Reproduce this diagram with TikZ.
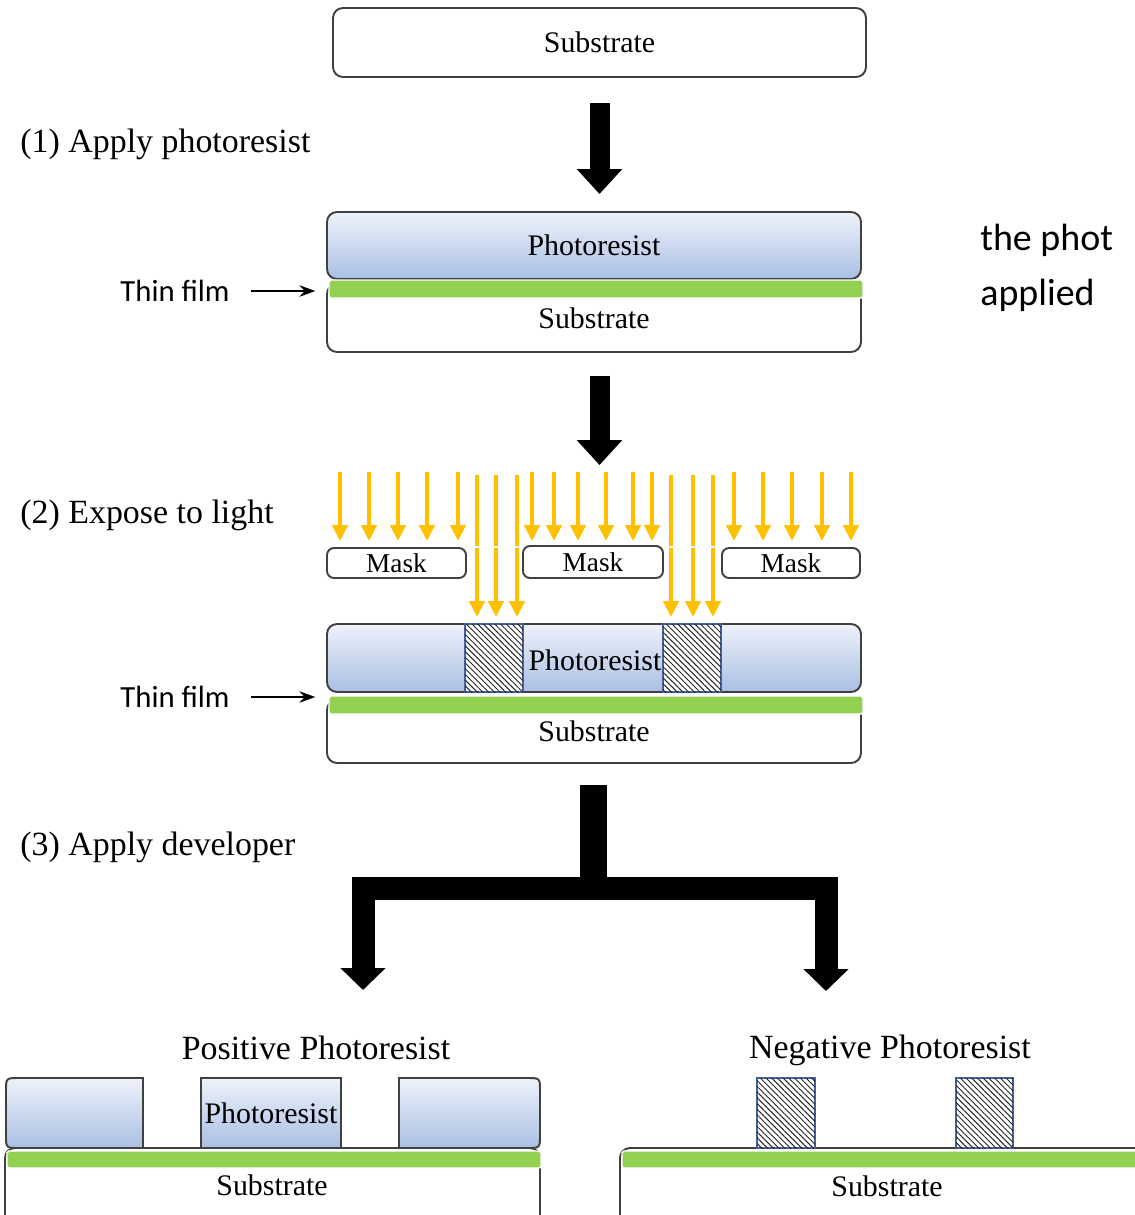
\documentclass[tikz,border=0pt]{standalone}
\usepackage{fontspec}
\setmainfont{Liberation Serif}
\newfontfamily\calibri{Carlito}
\usetikzlibrary{arrows.meta,patterns.meta,fit,positioning}
\definecolor{resTop}{HTML}{EEF2FA}
\definecolor{resBot}{HTML}{A9BFE3}
\definecolor{filmGreen}{HTML}{92D050}
\definecolor{rayYellow}{HTML}{FFC000}
\definecolor{expBlue}{HTML}{44639C}
\tikzset{layer/.style={draw=black!75,line width=1.1pt,inner sep=0pt,rounded corners=5.7pt},
        substr/.style={layer,fill=white},
        resist/.style={layer,top color=resTop,bottom color=resBot},
        film/.style={draw=white,line width=0.8pt,fill=filmGreen,inner sep=0pt,rounded corners=1pt},
        exposed/.style={draw=expBlue,line width=0.9pt,inner sep=0pt,fill=white,
          postaction={pattern={Lines[angle=-45,distance=2.3pt,line width=0.55pt]},pattern color=black!85}},
        maskbox/.style={layer,rounded corners=4pt},
        plain/.style={inner sep=0pt,font=\fontsize{17}{20}\selectfont},
        txt/.style={label={[plain]center:{#1}}},
        masktxt/.style={label={[plain,font=\fontsize{15.5}{18}\selectfont]center:{#1}}},
        ray/.style={draw=rayYellow,line width=2.3pt,-{Triangle[length=9pt,width=8.5pt]}},
        raygap/.style={draw=white,line width=1.6pt},
        bigarrow/.style={line width=0.4cm,-{Triangle[length=0.5cm,width=0.88cm]}},
        branch/.style={line width=0.46cm,line join=miter,-{Triangle[length=0.44cm,width=0.88cm]}},
        filmarrow/.style={line width=1.3pt,-{Stealth[length=9pt,width=6.5pt]}},
        steplabel/.style={anchor=west,inner sep=0pt,font=\fontsize{19.3}{22}\selectfont},
        sidelabel/.style={inner sep=0pt,font=\calibri\fontsize{17.5}{20}\selectfont}}
\begin{document}
\begin{tikzpicture}[x=0.02cm,y=-0.02cm]
\clip (0,0) rectangle (1135,1215);
% start: bare substrate
\node[substr,fit={(333,8) (866,77)},txt=Substrate] (sub0) {};
\node[steplabel] (step1) at (20,144) {(1) Apply photoresist};

% after coating
\node[substr,fit={(327,284) (861,352)},txt=Substrate] (sub1) {};
\node[resist,fit={(327,212) (861,279)},txt=Photoresist] (pr1) {};
\node[film,fit={(329,280) (863,298)}] (film1) {};
\node[sidelabel] (tf1) at (175,291) {Thin film};
\draw[filmarrow,shorten <=0.42cm,shorten >=0.26cm] (tf1.east) -- (tf1.east -| film1.west);
\node[anchor=base west,align=left,inner sep=0pt,font=\calibri\fontsize{21.6}{31}\selectfont]
  (note) at (980,305) {the phot\\applied};

\draw[bigarrow,shorten <=0.5cm,shorten >=0.34cm] (sub0.south) -- (sub0.south |- pr1.north);

% exposure
\node[steplabel] (step2) at (20,515) {(2) Expose to light};
\node[maskbox,fit={(327,548) (466,578)},masktxt=Mask] (mask1) {};
\node[maskbox,fit={(523,546) (663,578)},masktxt=Mask] (mask2) {};
\node[maskbox,fit={(722,548) (860,578)},masktxt=Mask] (mask3) {};
\foreach \x in {340,369,398,427,458,532,554,578,606,633,652,734,763,792,822,851}
  \draw[ray] (\x,472) -- (\x,541);
\foreach \x in {477,496,517,671,693,713}
  \draw[ray] (\x,475) -- (\x,617);
\draw[raygap] (mask1.north east) -- (mask2.north west |- mask1.north);
\draw[raygap] (mask2.north east |- mask3.north) -- (mask3.north west);

\node[substr,fit={(327,700) (861,763)},txt=Substrate] (sub2) {};
\node[resist,fit={(327,624) (861,692)}] (pr2) {};
\node[exposed,fit={(465,624) (523,692)}] (exp1) {};
\node[exposed,fit={(663,624) (721,692)}] (exp2) {};
\node[film,fit={(329,696) (863,714)}] (film2) {};
\node[plain] (prtxt2) at (595,660) {Photoresist};
\node[sidelabel] (tf2) at (175,697) {Thin film};
\draw[filmarrow,shorten <=0.42cm,shorten >=0.26cm] (tf2.east) -- (tf2.east -| film2.west);

\draw[bigarrow,shorten <=0.46cm,shorten >=1.6cm] (sub0.south |- sub1.south) -- (sub0.south |- mask2.north);

% develop
\node[steplabel] (step3) at (20,847) {(3) Apply developer};
\coordinate (split) at (593,888);
\coordinate (postip) at (363,990);
\coordinate (negtip) at (826,991);
\draw[line width=0.54cm,shorten <=0.42cm] (sub2.south -| split) -- (split);
\draw[branch] (split) -| (postip);
\draw[branch] (split) -| (negtip);

% positive resist
\node[steplabel,anchor=center] (postitle) at (316,1048) {Positive Photoresist};
\draw[substr] (5,1148) rectangle (540,1240);
\node[plain] (subtxt3) at (272,1185) {Substrate};
\draw[resist,sharp corners] (143,1078) -- (19,1078) .. controls (6,1078) .. (6,1091)
  -- (6,1135) .. controls (6,1148) .. (19,1148) -- (143,1148) -- cycle;
\node[resist,sharp corners,fit={(201,1078) (341,1148)},txt=Photoresist] (posmid) {};
\draw[resist,sharp corners] (399,1078) -- (527,1078) .. controls (540,1078) .. (540,1091)
  -- (540,1135) .. controls (540,1148) .. (527,1148) -- (399,1148) -- cycle;
\node[film,fit={(7,1151) (541,1168)}] (film3) {};

% negative resist
\node[steplabel,anchor=center] (negtitle) at (890,1050) {Negative Photoresist};
\draw[substr] (620,1148) rectangle (1170,1240);
\node[plain] (subtxt4) at (887,1186) {Substrate};
\node[exposed,fit={(757,1078) (815,1148)}] (neg1) {};
\node[exposed,fit={(956,1078) (1013,1148)}] (neg2) {};
\node[film,fit={(622,1151) (1170,1168)}] (film4) {};
\end{tikzpicture}
\end{document}
